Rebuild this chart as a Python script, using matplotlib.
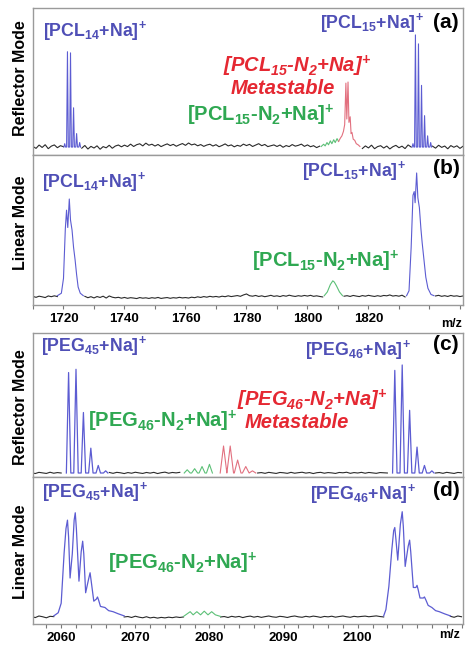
import numpy as np
import matplotlib
matplotlib.use('Agg')
import matplotlib.pyplot as plt
from matplotlib.ticker import MultipleLocator

plt.rcParams['font.family'] = ['Liberation Sans', 'DejaVu Sans']

# ---------------- data ----------------
# (a) PCL, reflector mode: isotope peaks (m/z, relative intensity)
PCL14_REF_MZ = [1720.4, 1721.3, 1722.3, 1723.3, 1724.3, 1725.3]
PCL14_REF_I = [3, 85, 84, 35, 12, 4]
PCL15_REF_MZ = [1834.6, 1835.4, 1836.4, 1837.4, 1838.4, 1839.4, 1840.4]
PCL15_REF_I = [3, 100, 92, 55, 28, 10, 4]
PCL_GREEN_REF_MZ = [1804.5, 1805.3, 1805.8, 1806.4, 1806.9, 1807.5, 1808.0, 1808.6, 1809.1, 1809.7, 1810.2]
PCL_GREEN_REF_I = [0.5, 2.5, 1.0, 4.0, 2.0, 5.5, 3.0, 6.5, 4.0, 7.5, 5.0]
PCL_META_REF_MZ = [1810.2, 1810.8, 1811.3, 1811.8, 1812.2, 1812.6, 1812.9, 1813.3, 1813.6,
                   1814.0, 1814.3, 1814.6, 1815.0, 1815.5, 1816.0, 1816.6, 1817.2]
PCL_META_REF_I = [5, 8, 10, 14, 20, 57, 25, 58, 22, 27, 12, 13, 7, 6, 3, 2, 0.5]
NOISE_A = [0.5, -1.2, 1.8, -0.4, 2.1, -1.5, 0.8, 1.9, -0.6, 1.2,
           0.3, 0, 0, 0, 0, 0, -1.0, 1.4, -1.8, 0.6,
           -0.9, 1.1, -2.0, 0.4, -0.7, 1.6, -1.1, 0.9, 1.8, 0.2,
           1.7, 0.4, 2.6, 0.5, 2.1, 2.9, 1.0, 3.5, 1.6, 2.5,
           0.9, 2.3, 0.4, 1.7, 2.8, 1.3, 2.4, 0.7, 2.0, 3.1,
           1.5, 3.6, 1.9, 2.7, 1.1, 2.2, 0.6, 1.8, 2.5, 0.9,
           2.1, 0.3, 1.4, 2.8, 1.0, 1.9, 0.2, 1.5, 0.7, 2.6,
           1.3, 2.4, 0.5, 1.7, 3.0, 1.2, 2.3, 0.4, 1.1, 1.9,
           0.5, 1.8, -0.2, 1.3, 0.4, 2.2, 0.8, 1.5, 2.6, 0.6,
           1.9, 0.3, 1.2, -0.5, 0.8, 0, 0, 0, 0, 0,
           0, 0, 0, 0, 0, 0, 0, 0.6, -1.3, 1.0,
           -0.8, 1.7, -1.5, 0.4, 1.2, -0.9, 0.9, -1.7, 0.3, 1.5,
           -0.6, 0.8, -1.4, 1.9, 0, 0, 0, 0, 0, 0,
           0, 0.8, -1.0, 1.6, -0.3, 0.9, -1.6, 1.3, -0.2, 1.1,
           -1.2, 0.7]

# (b) PCL, linear mode: profile vertices
PCL14_LIN_MZ = [1718.0, 1719.3, 1720.0, 1720.6, 1721.0, 1721.4, 1721.9, 1722.3, 1722.8,
                1723.3, 1723.8, 1724.3, 1724.8, 1725.5, 1726.5]
PCL14_LIN_I = [1, 3, 15, 55, 70, 56, 79, 62, 54, 40, 30, 18, 8, 3, 1]
PCL15_LIN_MZ = [1832.5, 1833.3, 1834.0, 1834.6, 1835.0, 1835.3, 1835.8, 1836.2, 1836.7,
                1837.2, 1837.6, 1838.2, 1838.8, 1839.5, 1840.5, 1841.5]
PCL15_LIN_I = [1, 5, 40, 82, 85, 76, 100, 80, 72, 55, 44, 30, 16, 7, 2, 1]
PCL_GREEN_LIN_MZ = [1805.5, 1806.5, 1807.5, 1808.3, 1808.8, 1809.5, 1810.5, 1811.5]
PCL_GREEN_LIN_I = [1, 4, 10, 13, 12, 9, 4, 1]
NOISE_B = [0.4, -0.3, 0.6, 0.1, -0.5, 0.8, 0.2, 0.9, 0.3, 0.6,
           0, 0, 0, 0, 0, 0, 0, 0.5, -0.6, 0.2,
           -0.8, 0.3, -0.4, 0.6, -0.9, 0.8, -0.2, -0.7, -0.3, -1.0,
           -0.4, -1.1, -0.6, -0.9, -1.3, -0.5, -1.0, -0.7, -1.2, -0.6,
           -1.0, -0.4, -1.2, -0.8, -0.5, -1.1, -0.6, -0.9, -0.3, -0.8,
           -0.5, -0.9, -0.2, -0.6, 0.1, -0.4, 0.3, -0.2, 0.5, 0.0,
           0.4, -0.1, 0.6, 0.2, 0.9, 0.3, 0.7, 1.1, 0.5, 1.6,
           2.4, 1.0, 0.6, 1.2, 0.4, 0.9, 0.2, 0.7, 1.3, 0.5,
           0.9, 0.3, 1.1, 0.6, 1.4, 0.8, 0.4, 1.0, 0.6, 1.2,
           0.7, 1.3, 0.5, 0.9, 0.4, 0, 0, 0, 0, 0,
           0, 0, 0.6, 1.0, 0.4, 1.2, 0.7, 0.3, 1.1, 0.6,
           1.3, 0.8, 0.4, 1.0, 0.5, 1.2, 0.9, 1.6, 0.7, 1.1,
           0.6, 1.4, 0, 0, 0, 0, 0, 0, 0, 0,
           0, 0, 0.8, 1.3, 0.5, 1.0, 0.4, 1.2, 0.6, 0.9,
           0.3, 0.8]

# (c) PEG, reflector mode: isotope peaks
PEG45_REF_MZ = [2061.0, 2062.0, 2063.0, 2064.0, 2065.0, 2066.0]
PEG45_REF_I = [93, 96, 56, 23, 7, 2]
PEG46_REF_MZ = [2105.0, 2106.0, 2107.0, 2108.0, 2109.0, 2110.0]
PEG46_REF_I = [95, 100, 58, 24, 7, 2]
PEG_GREEN_REF_MZ = [2077.0, 2078.0, 2079.0, 2080.0]
PEG_GREEN_REF_I = [3, 4, 6, 8]
PEG_META_REF_MZ = [2081.9, 2082.8, 2083.8, 2084.9, 2085.8]
PEG_META_REF_I = [25, 25, 12, 6, 2]
NOISE_C = [0.3, -0.5, 0.6, 0.1, -0.4, 0.7, -0.2, 0.4, 0, 0,
           0, 0, 0, 0, 0, 0, 0, 0, 0, 0,
           0, 0.5, -0.3, 0.6, 0.2, -0.5, 0.4, -0.2, 0.7, 0.1,
           -0.4, 0.5, -0.1, 0.6, -0.5, 0.3, 0.8, -0.2, 0.5, 0.1,
           0.6, 0, 0, 0, 0, 0, 0, 0, 0, 0,
           0, 0, 0, 0, 0, 0, 0, 0, 0, 0,
           0, 0, 0.4, -0.3, 0.6, 0.1, -0.4, 0.5, 0.2, -0.3,
           0.6, -0.2, 0.3, 0.7, -0.1, 0.4, -0.5, 0.3, 0.6, -0.2,
           0.4, 0.1, -0.4, 0.5, 0.2, 0.7, -0.3, 0.4, 0.0, 0.6,
           -0.2, 0.5, 0.1, -0.3, 0.4, 0.2, 0, 0, 0, 0,
           0, 0, 0, 0, 0, 0, 0, 0, 0, 0,
           0.4, -0.3, 0.6, 0.1, -0.4, 0.5, 0.2]

# (d) PEG, linear mode: profile vertices
PEG45_LIN_MZ = [2059.0, 2059.6, 2060.0, 2060.4, 2060.65, 2060.85, 2061.0, 2061.2, 2061.5,
                2061.75, 2061.9, 2062.05, 2062.4, 2062.7, 2062.9, 2063.05, 2063.3, 2063.7,
                2063.9, 2064.05, 2064.4, 2064.75, 2064.9, 2065.05, 2065.3, 2065.9, 2066.4,
                2067.0, 2067.7, 2068.5]
PEG45_LIN_I = [1, 4, 13, 61, 84, 92, 76, 37, 60, 92, 99, 84, 34, 62, 72, 60, 23, 36,
               42, 34, 15, 17, 19, 16, 10, 9, 6, 5, 3, 1]
PEG46_LIN_MZ = [2103.5, 2103.8, 2104.2, 2104.6, 2104.85, 2105.0, 2105.15, 2105.4, 2105.75,
                2106.0, 2106.15, 2106.4, 2106.8, 2107.0, 2107.15, 2107.5, 2107.85, 2108.0,
                2108.15, 2108.4, 2108.85, 2109.0, 2109.2, 2109.5, 2110.0, 2110.5, 2111.0,
                2111.7, 2112.5]
PEG46_LIN_I = [1, 7, 29, 64, 82, 85, 74, 54, 88, 100, 86, 48, 67, 73, 62, 28, 28, 30,
               26, 18, 18, 19, 16, 11, 9, 6, 5, 3, 1]
PEG_GREEN_LIN_MZ = [2076.5, 2077.0, 2077.4, 2077.8, 2078.3, 2078.8, 2079.3, 2079.8, 2080.3, 2080.8, 2081.5]
PEG_GREEN_LIN_I = [0.5, 3, 5, 2, 5, 2, 5.5, 2, 5, 2, 0.5]
NOISE_D = [0.5, -0.6, 0.9, 0.2, -0.8, 0.6, 0.3, -0.4, 0, 0,
           0, 0, 0, 0, 0, 0, 0, 0, 0, 0,
           0, 0, 0, 0, 0, 0, 0.4, -0.5, 0.7, -0.2,
           -0.8, 0.2, -0.9, -0.3, -1.1, -0.4, -0.9, -0.2, -0.7, 0.0,
           -0.5, 0, 0, 0, 0, 0, 0, 0, 0, 0,
           0, 0, 0.4, -0.5, 0.6, -0.1, 0.5, -0.6, 0.3, 0.8,
           -0.2, 0.5, -0.4, 0.3, 0.9, 0.1, -0.3, 0.6, 0.2, -0.5,
           0.4, 0.9, 0.1, -0.3, 0.6, 0.0, 0.8, 0.3, -0.4, 0.5,
           0.1, 0.7, -0.2, 0.4, 0.9, 0.2, -0.3, 0.6, 0.1, 0.5,
           0.8, 0.2, 0.6, 1.0, 0.4, 0, 0, 0, 0, 0,
           0, 0, 0, 0, 0, 0, 0, 0, 0, 0,
           0, 0, 0, 0.6, -0.3, 0.9, 0.2]

TOP_TICKS = [1720, 1740, 1760, 1780, 1800, 1820]
BOTTOM_TICKS = [2060, 2070, 2080, 2090, 2100]

# ---------------- style ----------------
W, H = 472, 648
BLUE_T = '#5c5cd2'
GREEN_T = '#5cc077'
RED_T = '#e2707f'
BLACK_T = '#2a2a2a'
BLUE_L = '#4f4fb6'
GREEN_L = '#2fa852'
RED_L = '#e52832'
SPINE = '#9a9a9a'

fig = plt.figure(figsize=(W / 100, H / 100), dpi=100)


def add_ax(top, bottom, left=33, right=463):
    return fig.add_axes([left / W, 1 - bottom / H, (right - left) / W, (bottom - top) / H])


def sticks(mz, inten, hw):
    xs, ys = [], []
    for m, h in zip(mz, inten):
        xs += [m - hw, m, m + hw]
        ys += [0, h, 0]
    return xs, ys


def baseline(ax, start, step, noise, masks, lw):
    x = start + step * np.arange(len(noise))
    y = np.array(noise, dtype=float)
    for lo, hi in masks:
        y[(x > lo) & (x < hi)] = np.nan
    ax.plot(x, y, color=BLACK_T, lw=lw, solid_joinstyle='miter')


def style_ax(ax, xlim, ylim):
    ax.set_xlim(*xlim)
    ax.set_ylim(*ylim)
    ax.set_yticks([])
    for s in ax.spines.values():
        s.set_color(SPINE)
        s.set_linewidth(1.0)


def fx(px):
    return px / W


def fy(py):
    return 1 - py / H


# ---------------- panel (a) ----------------
axa = add_ax(8, 155)
baseline(axa, 1710, 1, NOISE_A, [(1720, 1726), (1804.5, 1817.2), (1834, 1841)], 0.8)
x, y = sticks(PCL14_REF_MZ, PCL14_REF_I, 0.28)
axa.plot(x, y, color=BLUE_T, lw=0.8)
x, y = sticks(PCL15_REF_MZ, PCL15_REF_I, 0.28)
axa.plot(x, y, color=BLUE_T, lw=0.8)
axa.plot(PCL_GREEN_REF_MZ, PCL_GREEN_REF_I, color=GREEN_T, lw=0.8)
axa.plot(PCL_META_REF_MZ, PCL_META_REF_I, color=RED_T, lw=0.8)
style_ax(axa, (1710, 1851), (-7.1, 124))
axa.set_xticks([])

# ---------------- panel (b) ----------------
axb = add_ax(155, 305)
baseline(axb, 1710, 1, NOISE_B, [(1718, 1726.5), (1805.5, 1811.5), (1832.5, 1841.5)], 0.8)
axb.plot(PCL14_LIN_MZ, PCL14_LIN_I, color=BLUE_T, lw=0.8)
axb.plot(PCL15_LIN_MZ, PCL15_LIN_I, color=BLUE_T, lw=0.8)
axb.plot(PCL_GREEN_LIN_MZ, PCL_GREEN_LIN_I, color=GREEN_T, lw=0.8)
style_ax(axb, (1710, 1851), (-6.5, 114.5))
axb.set_xticks(TOP_TICKS)
axb.xaxis.set_minor_locator(MultipleLocator(10))

# ---------------- panel (c) ----------------
axc = add_ax(333, 477)
baseline(axc, 2056, 0.5, NOISE_C, [(2060.3, 2066.4), (2076.4, 2086.4), (2104.3, 2110.4)], 0.8)
x, y = sticks(PEG45_REF_MZ, PEG45_REF_I, 0.3)
axc.plot(x, y, color=BLUE_T, lw=0.9)
x, y = sticks(PEG46_REF_MZ, PEG46_REF_I, 0.3)
axc.plot(x, y, color=BLUE_T, lw=0.9)
x, y = sticks(PEG_GREEN_REF_MZ, PEG_GREEN_REF_I, 0.4)
axc.plot(x, y, color=GREEN_T, lw=0.8)
x, y = sticks(PEG_META_REF_MZ, PEG_META_REF_I, 0.45)
axc.plot(x, y, color=RED_T, lw=0.8)
style_ax(axc, (2056.2, 2114.2), (-3.7, 129.6))
axc.set_xticks([])

# ---------------- panel (d) ----------------
axd = add_ax(477, 624)
baseline(axd, 2056, 0.5, NOISE_D, [(2059, 2068.5), (2076.5, 2081.5), (2103.5, 2112.5)], 0.8)
axd.plot(PEG45_LIN_MZ, PEG45_LIN_I, color=BLUE_T, lw=0.9)
axd.plot(PEG46_LIN_MZ, PEG46_LIN_I, color=BLUE_T, lw=0.9)
axd.plot(PEG_GREEN_LIN_MZ, PEG_GREEN_LIN_I, color=GREEN_T, lw=0.8)
style_ax(axd, (2056.2, 2114.2), (-6.7, 133))
axd.set_xticks(BOTTOM_TICKS)
axd.xaxis.set_minor_locator(MultipleLocator(2))

for ax in (axb, axd):
    ax.tick_params(axis='x', which='both', direction='out', length=3, width=0.8,
                   color='#777777', pad=3, labelsize=9.5)
    for t in ax.get_xticklabels():
        t.set_fontweight('bold')

# ---------------- text ----------------
LBL = 12.8
LBL_BIG = 14.5


def label(px, py, s, color, style='normal', size=LBL):
    fig.text(fx(px), fy(py), s, color=color, fontsize=size, fontweight='bold',
             fontstyle=style, ha='left', va='center')


def ion(poly, n, extra=''):
    return r'[%s$_{\mathdefault{%s}}$%s+Na]$^{\mathdefault{+}}$' % (poly, n, extra)


def ion_n2(poly, n):
    return r'[%s$_{\mathdefault{%s}}$-N$_{\mathdefault{2}}$+Na]$^{\mathdefault{+}}$' % (poly, n)


label(43, 31, ion('PCL', '14'), BLUE_L)
label(320, 23, ion('PCL', '15'), BLUE_L)
label(223, 66, ion_n2('PCL', '15'), RED_L, 'italic', LBL_BIG)
label(231, 88, 'Metastable', RED_L, 'italic', LBL_BIG)
label(187, 115, ion_n2('PCL', '15'), GREEN_L, size=LBL_BIG)

label(42, 182, ion('PCL', '14'), BLUE_L)
label(302, 171, ion('PCL', '15'), BLUE_L)
label(252, 261, ion_n2('PCL', '15'), GREEN_L, size=LBL_BIG)

label(41, 346, ion('PEG', '45'), BLUE_L)
label(305, 350, ion('PEG', '46'), BLUE_L)
label(88, 421, ion_n2('PEG', '46'), GREEN_L, size=LBL_BIG)
label(237, 400, ion_n2('PEG', '46'), RED_L, 'italic', LBL_BIG)
label(245, 423, 'Metastable', RED_L, 'italic', LBL_BIG)

label(42, 492, ion('PEG', '45'), BLUE_L)
label(310, 494, ion('PEG', '46'), BLUE_L)
label(108, 563, ion_n2('PEG', '46'), GREEN_L, size=LBL_BIG)

for s, py in [('(a)', 22), ('(b)', 168), ('(c)', 345), ('(d)', 491)]:
    fig.text(fx(446), fy(py), s, color='black', fontsize=15, fontweight='bold',
             ha='center', va='center')

for s, py in [('Reflector Mode', 78), ('Linear Mode', 223), ('Reflector Mode', 407), ('Linear Mode', 552)]:
    fig.text(fx(21), fy(py), s, color='black', fontsize=11.5, fontweight='bold',
             rotation=90, ha='center', va='center')

fig.text(fx(452), fy(324), 'm/z', fontsize=9, fontweight='bold', ha='center', va='center')
fig.text(fx(450), fy(635), 'm/z', fontsize=9, fontweight='bold', ha='center', va='center')

fig.savefig('out.png', dpi=100)
